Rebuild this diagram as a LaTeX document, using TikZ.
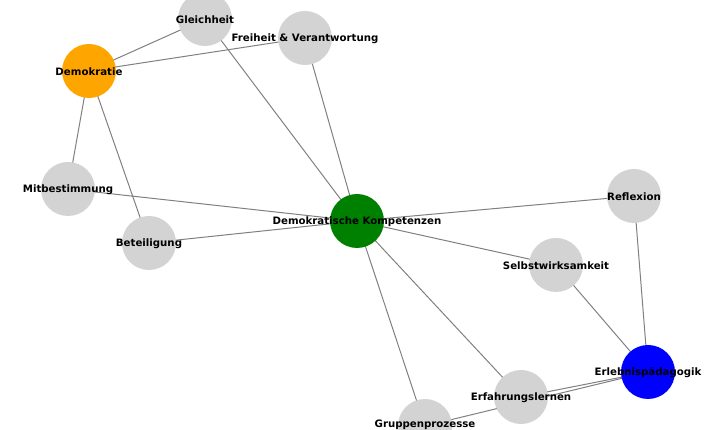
\documentclass[tikz,border=0pt]{standalone}
\usepackage{fontspec}
\setmainfont{DejaVu Sans}
\usetikzlibrary{backgrounds}
\definecolor{lg}{HTML}{D3D3D3}
\definecolor{edgegray}{HTML}{808080}
\definecolor{orangec}{HTML}{FFA500}
\definecolor{greenc}{HTML}{008000}
\definecolor{bluec}{HTML}{0000FF}
\tikzset{
  vert/.style={circle, minimum size=54pt, inner sep=0pt, draw=none, fill=lg},
  vlabel/.style={font=\fontsize{10.2}{12}\selectfont\bfseries, text=black, inner sep=0pt, yshift=-1pt},
  conn/.style={draw=edgegray, line width=1pt}
}
\newcommand{\vtx}[4][lg]{%
  \node[vert, fill=#1, label={[vlabel]center:#4}] (#2) at (#3) {};}
\begin{document}
\begin{tikzpicture}[x=1pt,y=-1pt]
\useasboundingbox (0,0) rectangle (716,430);
\vtx{gl}{205,19}{Gleichheit}
\vtx{fv}{305,38}{Freiheit \& Verantwortung}
\vtx[orangec]{de}{89,71}{Demokratie}
\vtx{mb}{68,189}{Mitbestimmung}
\vtx{be}{149,243}{Beteiligung}
\vtx[greenc]{dk}{357,221}{Demokratische Kompetenzen}
\vtx{re}{634,196}{Reflexion}
\vtx{sw}{556,265}{Selbstwirksamkeit}
\vtx[bluec]{ep}{648,372}{Erlebnispädagogik}
\vtx{el}{521,397}{Erfahrungslernen}
\node[vert] (gp) at (425,426) {};
\node[vlabel, yshift=1pt] (gpt) at (425,424.5) {Gruppenprozesse};
\begin{scope}[on background layer]
\draw[conn] (de.center) -- (gl.center);
\draw[conn] (de.center) -- (fv.center);
\draw[conn] (de.center) -- (mb.center);
\draw[conn] (de.center) -- (be.center);
\draw[conn] (gl.center) -- (dk.center);
\draw[conn] (fv.center) -- (dk.center);
\draw[conn] (mb.center) -- (dk.center);
\draw[conn] (be.center) -- (dk.center);
\draw[conn] (dk.center) -- (re.center);
\draw[conn] (dk.center) -- (sw.center);
\draw[conn] (dk.center) -- (el.center);
\draw[conn] (dk.center) -- (gp.center);
\draw[conn] (re.center) -- (ep.center);
\draw[conn] (sw.center) -- (ep.center);
\draw[conn] (el.center) -- (ep.center);
\draw[conn] (gp.center) -- (ep.center);
\end{scope}
\end{tikzpicture}
\end{document}
